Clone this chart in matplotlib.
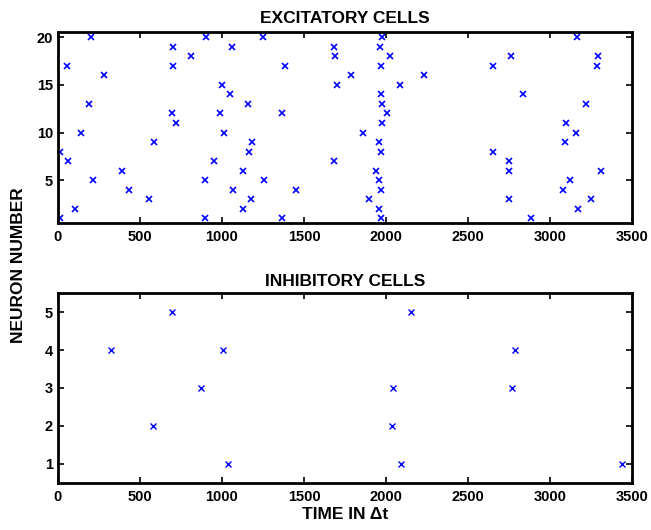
import matplotlib
matplotlib.use("Agg")
import matplotlib.pyplot as plt

plt.rcParams['font.family'] = ['Liberation Sans', 'DejaVu Sans']
plt.rcParams['font.weight'] = 'bold'

# excitatory spikes: (time, neuron)
exc_t = [10, 10, 57, 59, 106, 143, 192, 202, 213, 282, 391, 431, 556, 587,
         693, 703, 703, 718, 812, 894, 896, 904, 949, 990, 1000, 1012, 1047,
         1063, 1065, 1127, 1129, 1157, 1162, 1174, 1184, 1247, 1254, 1366,
         1368, 1387, 1452,
         1682, 1690, 1682, 1702, 1784, 1861, 1898, 1937, 1955, 1955, 1959,
         1965, 1967, 1967, 1967, 1967, 1969, 1976, 1976, 1976, 2004, 2024,
         2086, 2233, 2651, 2651, 2747, 2747, 2747, 2759, 2837, 2886, 3076,
         3092, 3096, 3124, 3157, 3161, 3169, 3220, 3251, 3284, 3292, 3310]
exc_n = [8, 1, 17, 7, 2, 10, 13, 20, 5, 16, 6, 4, 3, 9,
         12, 19, 17, 11, 18, 1, 5, 20, 7, 12, 15, 10, 14,
         19, 4, 6, 2, 13, 8, 3, 9, 20, 5, 12,
         1, 17, 4,
         19, 18, 7, 15, 16, 10, 3, 6, 5, 9, 2,
         19, 17, 14, 8, 4, 1, 20, 13, 11, 12, 18,
         15, 16, 17, 8, 7, 6, 3, 18, 14, 1, 4,
         9, 11, 5, 10, 20, 2, 13, 3, 17, 18, 6]

# inhibitory spikes
inh_t = [321, 577, 693, 869, 1006, 1035, 2035, 2043, 2090, 2151, 2767, 2788, 3441]
inh_n = [4, 2, 5, 3, 4, 1, 2, 3, 1, 5, 3, 4, 1]

fig = plt.figure(figsize=(6.51, 5.30), dpi=100)
ax1 = fig.add_axes([0.089, 0.579, 0.882, 0.360])
ax2 = fig.add_axes([0.089, 0.089, 0.882, 0.358])

ax1.plot(exc_t, exc_n, 'x', color='blue', markersize=4.5, markeredgewidth=1.2)
ax2.plot(inh_t, inh_n, 'x', color='blue', markersize=4.5, markeredgewidth=1.0)

ax1.set_xlim(0, 3500)
ax1.set_ylim(0.5, 20.5)
ax1.set_yticks([5, 10, 15, 20])
ax2.set_xlim(0, 3500)
ax2.set_ylim(0.5, 5.5)
ax2.set_yticks([1, 2, 3, 4, 5])

for ax in (ax1, ax2):
    ax.set_xticks(range(0, 3501, 500))
    ax.tick_params(direction='in', top=True, right=True, length=4, width=1.2,
                   labelsize=10.5)
    ax.tick_params(axis='x', pad=5)
    for lab in ax.get_xticklabels() + ax.get_yticklabels():
        lab.set_fontweight('bold')
    for s in ax.spines.values():
        s.set_linewidth(2)

ax1.set_title('EXCITATORY CELLS', fontsize=12.5, fontweight='bold', pad=7)
ax2.set_title('INHIBITORY CELLS', fontsize=12.5, fontweight='bold', pad=5)
ax2.set_xlabel('TIME IN Δt', fontsize=12.5, fontweight='bold', labelpad=2)
fig.text(0.028, 0.5, 'NEURON NUMBER', rotation=90, ha='center', va='center',
         fontsize=12.5, fontweight='bold')

fig.savefig('out.png', dpi=100)
